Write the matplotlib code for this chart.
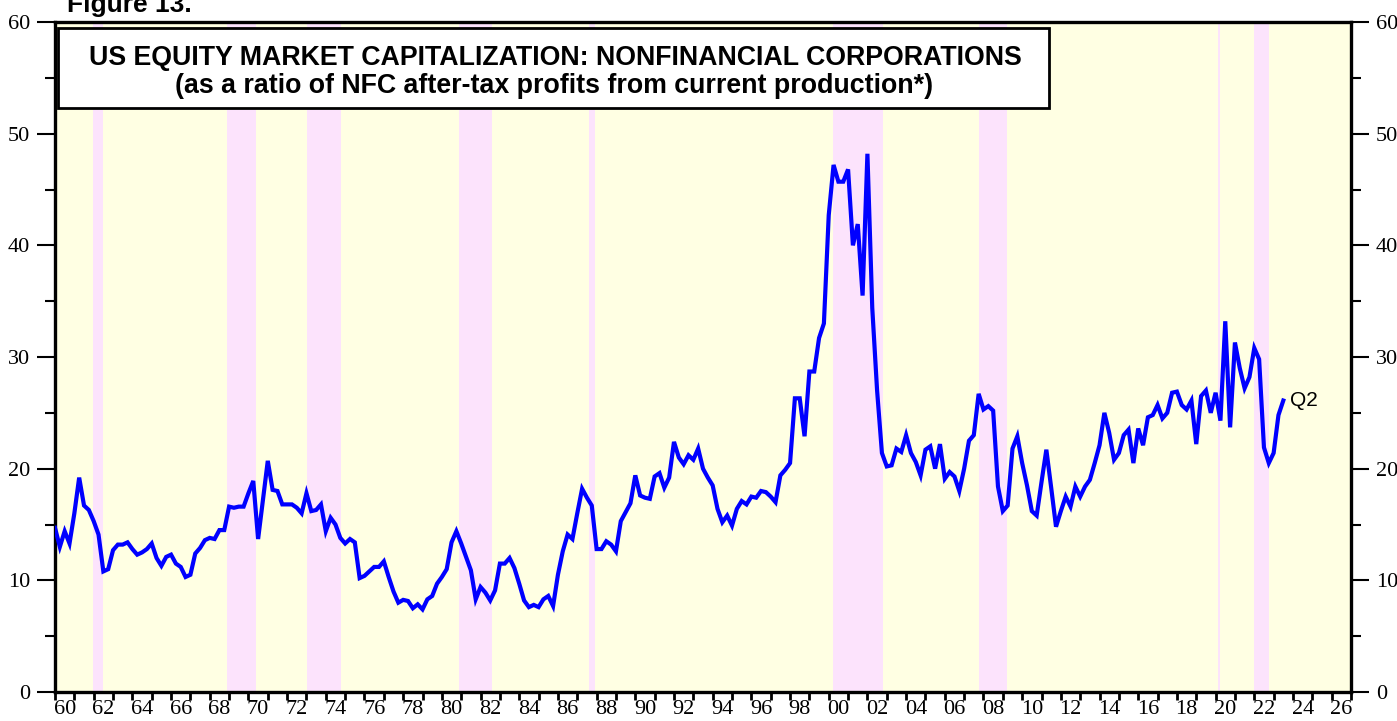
import numpy as np
import matplotlib
matplotlib.use("Agg")
import matplotlib.pyplot as plt
from matplotlib.patches import Rectangle

# quarterly ratio, first value is 1959 Q4, last is 2023 Q2
first_year = 1959
first_quarter = 4
ratio = [
    14.7,                       # 1959 Q4
    13.0, 14.4, 13.3, 16.0,     # 1960
    19.2, 16.7, 16.3, 15.3,     # 1961
    14.1, 10.8, 11.0, 12.7,     # 1962
    13.2, 13.2, 13.4, 12.8,     # 1963
    12.3, 12.5, 12.8, 13.3,     # 1964
    12.0, 11.3, 12.1, 12.3,     # 1965
    11.5, 11.2, 10.3, 10.5,     # 1966
    12.4, 12.9, 13.6, 13.8,     # 1967
    13.7, 14.5, 14.5, 16.6,     # 1968
    16.5, 16.6, 16.6, 17.8,     # 1969
    18.9, 13.7, 17.2, 20.7,     # 1970
    18.1, 18.0, 16.8, 16.8,     # 1971
    16.8, 16.5, 16.0, 17.8,     # 1972
    16.2, 16.3, 16.8, 14.4,     # 1973
    15.6, 15.0, 13.8, 13.3,     # 1974
    13.7, 13.4, 10.2, 10.4,     # 1975
    10.8, 11.2, 11.2, 11.7,     # 1976
    10.3, 9.0, 8.0, 8.25,       # 1977
    8.15, 7.5, 7.85, 7.4,       # 1978
    8.3, 8.6, 9.7, 10.3,        # 1979
    11.0, 13.4, 14.4, 13.3,     # 1980
    12.1, 10.9, 8.3, 9.4,       # 1981
    8.9, 8.2, 9.1, 11.5,        # 1982
    11.5, 12.0, 11.1, 9.7,      # 1983
    8.2, 7.6, 7.8, 7.6,         # 1984
    8.3, 8.6, 7.7, 10.5,        # 1985
    12.6, 14.1, 13.7, 16.0,     # 1986
    18.2, 17.4, 16.7, 12.8,     # 1987
    12.8, 13.5, 13.2, 12.6,     # 1988
    15.3, 16.1, 16.9, 19.4,     # 1989
    17.6, 17.4, 17.3, 19.3,     # 1990
    19.6, 18.3, 19.2, 22.4,     # 1991
    21.0, 20.4, 21.2, 20.8,     # 1992
    21.8, 20.0, 19.2, 18.5,     # 1993
    16.4, 15.2, 15.8, 14.9,     # 1994
    16.4, 17.1, 16.8, 17.5,     # 1995
    17.4, 18.0, 17.9, 17.5,     # 1996
    17.0, 19.4, 19.9, 20.5,     # 1997
    26.3, 26.3, 22.9, 28.7,     # 1998
    28.7, 31.7, 33.0, 42.7,     # 1999
    47.2, 45.7, 45.7, 46.8,     # 2000
    40.0, 41.9, 35.5, 48.2,     # 2001
    34.4, 27.0, 21.4, 20.2,     # 2002
    20.3, 21.8, 21.5, 23.0,     # 2003
    21.4, 20.6, 19.4, 21.7,     # 2004
    22.0, 20.0, 22.2, 19.1,     # 2005
    19.7, 19.3, 18.0, 20.0,     # 2006
    22.5, 23.0, 26.7, 25.3,     # 2007
    25.6, 25.2, 18.4, 16.2,     # 2008
    16.7, 21.8, 22.9, 20.5,     # 2009
    18.5, 16.2, 15.8, 18.8,     # 2010
    21.7, 18.3, 14.8, 16.2,     # 2011
    17.5, 16.6, 18.4, 17.5,     # 2012
    18.4, 19.0, 20.5, 22.1,     # 2013
    25.0, 23.2, 20.8, 21.4,     # 2014
    23.0, 23.5, 20.5, 23.6,     # 2015
    22.1, 24.6, 24.8, 25.7,     # 2016
    24.5, 25.0, 26.8, 26.9,     # 2017
    25.7, 25.3, 26.1, 22.2,     # 2018
    26.5, 27.0, 25.0, 26.8,     # 2019
    24.3, 33.2, 23.7, 31.3,     # 2020
    29.0, 27.2, 28.2, 30.8,     # 2021
    29.8, 21.9, 20.5, 21.4,     # 2022
    24.8, 26.1,                 # 2023
]

# shaded periods (decimal years)
shade_start = [1961.95, 1968.91, 1973.03, 1980.90, 1987.61, 2000.24, 2007.78, 2020.12, 2022.00]
shade_end = [1962.48, 1970.38, 1974.79, 1982.58, 1987.92, 2002.80, 2009.21, 2020.24, 2022.78]

title_1 = "US EQUITY MARKET CAPITALIZATION: NONFINANCIAL CORPORATIONS"
title_2 = "(as a ratio of NFC after-tax profits from current production*)"
last_label = "Q2"

# x at end of each quarter
n = len(ratio)
quarter_idx = np.arange(n) + first_quarter
x = first_year + quarter_idx / 4.0
y = np.array(ratio)

fig = plt.figure(figsize=(13.97, 7.21), dpi=100)
ax = fig.add_axes([55 / 1397, 1 - 692 / 721, 1296 / 1397, 670 / 721])
ax.set_facecolor("#FFFFE3")

for s, e in zip(shade_start, shade_end):
    ax.axvspan(s, e, color="#FCE3FC", lw=0, zorder=0)

ax.plot(x, y, color="#0000FF", lw=3.0, zorder=3, solid_joinstyle="miter")
ax.text(x[-1] + 0.35, y[-1], last_label, fontsize=15, family="Liberation Sans",
        va="center", ha="left")

ax.set_xlim(1960, 2027)
ax.set_ylim(0, 60)

# x: tick every year, labels centred in even years
years = np.arange(1960, 2028)
ax.set_xticks(years)
ax.set_xticklabels([])
lab_years = np.arange(1960, 2027, 2)
ax.set_xticks(lab_years + 0.5, minor=True)
ax.set_xticklabels([f"{yy % 100:02d}" for yy in lab_years], minor=True)
ax.tick_params(axis="x", which="major", direction="out", length=6, width=2)
ax.tick_params(axis="x", which="minor", length=0, pad=6, labelsize=16)

ax.set_yticks(np.arange(0, 61, 10))
ax.set_yticks(np.arange(5, 60, 10), minor=True)
ax.tick_params(axis="y", which="major", direction="out", length=13, width=1.5,
               left=True, right=True, labelleft=True, labelright=True, labelsize=16, pad=5)
ax.tick_params(axis="y", which="minor", direction="out", length=7, width=1.5,
               left=True, right=True)
for lab in ax.get_xticklabels(minor=True):
    lab.set_family("Liberation Serif")
for t in ax.yaxis.get_major_ticks():
    t.label1.set_family("Liberation Serif")
    t.label2.set_family("Liberation Serif")

for sp in ax.spines.values():
    sp.set_linewidth(2.4)

# title box
box = Rectangle((0.0023, 0.8716), 0.7648, 0.1199, transform=ax.transAxes,
                facecolor="white", edgecolor="black", lw=2.0, zorder=5)
ax.add_patch(box)
ax.text(0.3858, 0.9470, title_1, transform=ax.transAxes, ha="center", va="center",
        fontsize=19.3, fontweight="bold", family="Liberation Sans", zorder=6)
ax.text(0.3850, 0.9050, title_2, transform=ax.transAxes, ha="center", va="center",
        fontsize=19.3, fontweight="bold", family="Liberation Sans", zorder=6)

fig.text(67 / 1397, 1 - 12 / 721, "Figure 13.", fontsize=19, fontweight="bold",
         family="Liberation Sans", va="baseline", ha="left")

fig.savefig("out.png", dpi=100)
